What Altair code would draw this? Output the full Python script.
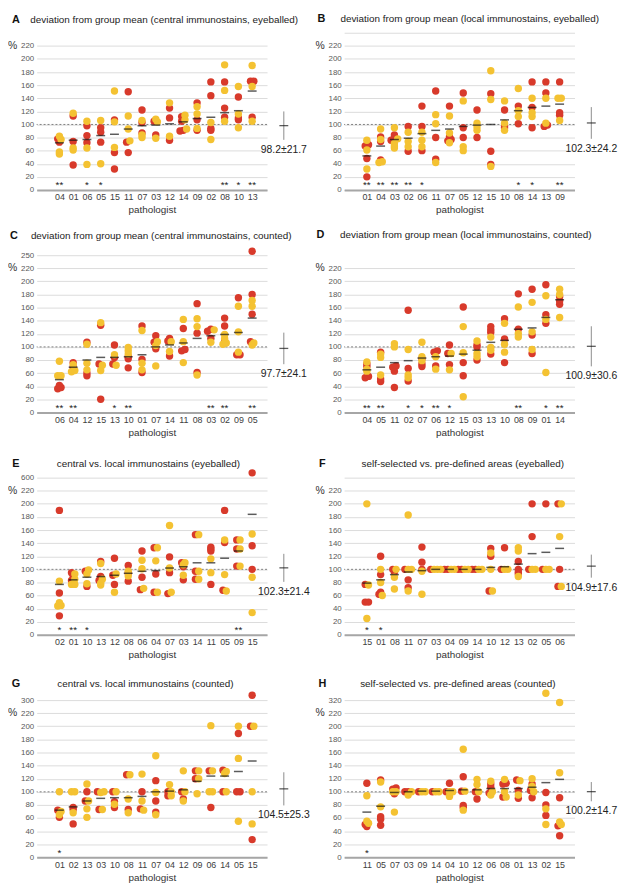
import altair as alt
import pandas as pd

FONT = "Liberation Sans"
RED = "#d83a2b"
YELLOW = "#f4c232"
W, H = 233, 159
X_DOMAIN = [-0.65, 16.08]
SD_X = 17.3

# ---------------- Panel A ----------------
A_title = "deviation from group mean (central immunostains, eyeballed)"
A_ids = ["04", "01", "06", "05", "15", "11", "07", "03", "12", "14", "09", "02", "08", "10", "13"]
A_red = [[78, 73], [113, 74, 38], [98, 83, 72], [95, 88, 73], [107, 57, 32], [150, 73, 57],
         [122, 103, 87], [105, 84], [125, 110, 76], [112, 105, 91, 90], [133, 107, 91],
         [165, 144, 94, 91], [165, 125, 111], [142, 110, 107], [166, 166, 111]]
A_yellow = [[82, 77, 58, 55], [117, 64, 61], [105, 64, 39], [106, 40], [151, 104, 65], [113, 93, 75],
            [106, 84, 80], [108, 104, 79], [133, 82], [114, 107, 93], [127, 116, 94], [103, 77],
            [191, 152, 105], [158, 116, 95], [190, 158, 105]]
A_mean = [72, 76, 77, 83, 85, 93, 98, 99, 101, 104, 109, 111, 118, 121, 151]
A_stars = ["**", "", "*", "*", "", "", "", "", "", "", "", "", "**", "*", "**"]
A_sd = [98.2, 21.7]

# ---------------- Panel B ----------------
B_title = "deviation from group mean (local immunostains, eyeballed)"
B_ids = ["01", "04", "03", "02", "06", "11", "07", "05", "12", "15", "10", "08", "14", "13", "09"]
B_red = [[69, 67, 48, 20], [81, 74, 46], [84, 80, 76], [97, 59], [128, 97, 60], [151, 80, 47],
         [128, 81, 77, 75], [148, 95, 80], [122, 80], [147, 59, 39], [122, 98, 95], [128, 101],
         [165, 126, 95], [165, 148, 99, 97], [165, 118, 114]]
B_yellow = [[76, 61, 32], [93, 77, 43, 42], [95, 78, 71, 67, 64], [88, 74, 66], [88, 76, 66],
            [115, 101, 42], [113, 87, 72], [136, 66, 60], [102, 96, 91], [182, 138, 36],
            [136, 102, 91], [155, 121, 112], [140, 118, 112], [140, 102], [140, 140, 106]]
B_mean = [52, 67, 77, 79, 86, 91, 93, 97, 99, 100, 107, 121, 126, 128, 131]
B_stars = ["**", "**", "**", "**", "*", "", "", "", "", "", "", "*", "*", "", "**"]
B_sd = [102.3, 24.2]

# ---------------- Panel C ----------------
C_title = "deviation from group mean (central immunostains, counted)"
C_ids = ["06", "04", "12", "15", "13", "10", "01", "07", "14", "11", "08", "03", "02", "09", "05"]
C_red = [[41, 38, 36], [76, 69], [107, 60, 56], [133, 74, 20], [103, 84, 74], [85, 82, 68],
         [132, 81, 61], [117, 107, 97], [113, 109, 86], [128, 96, 94], [166, 121, 61],
         [127, 124, 113], [144, 132, 109], [175, 88, 88], [259, 180, 150, 108]]
C_yellow = [[78, 56, 56], [73, 64, 62], [104, 75, 65], [137, 72, 64], [88, 72], [99, 94, 89],
            [125, 75, 65], [108, 102, 71], [108, 93], [142, 108, 76], [143, 131, 57], [126, 107],
            [119, 113, 106, 104], [162, 123, 92], [171, 162, 106, 103]]
C_mean = [50, 69, 80, 84, 84, 85, 88, 100, 103, 106, 113, 117, 119, 122, 144]
C_stars = ["**", "**", "", "", "*", "**", "", "", "", "", "", "**", "**", "", "**"]
C_sd = [97.7, 24.1]

# ---------------- Panel D ----------------
D_title = "deviation from group mean (local immunostains, counted)"
D_ids = ["04", "05", "11", "02", "07", "06", "12", "15", "03", "13", "10", "08", "09", "01", "14"]
D_red = [[74, 70, 55, 53], [92, 51, 47], [71, 69, 63, 38], [156, 67, 48], [82, 74, 70], [94, 92, 71],
         [103, 90, 73], [161, 76, 56], [103, 100, 80], [131, 126, 122, 89], [143, 112, 76],
         [181, 127], [188, 118, 90], [195, 149, 136], [177, 170, 165]]
D_yellow = [[77, 66, 63], [89, 84, 57], [105, 100], [96, 57, 53], [107, 85, 79], [85, 66], [90, 65],
            [131, 91, 24], [109, 90, 85], [115, 99, 95], [136, 104, 92], [161, 120, 115],
            [168, 123, 96], [178, 142, 61], [188, 180, 145]]
D_mean = [65, 69, 76, 79, 83, 85, 86, 89, 95, 107, 110, 127, 129, 145, 172]
D_stars = ["**", "**", "", "*", "*", "**", "*", "", "", "", "", "**", "", "*", "**"]
D_sd = [100.9, 30.6]

# ---------------- Panel E ----------------
E_title = "central vs. local immunostains (eyeballed)"
E_ids = ["02", "01", "10", "13", "12", "08", "06", "04", "07", "03", "14", "11", "05", "09", "15"]
E_red = [[190, 64, 29], [95, 90, 83], [97, 74], [112, 89, 83], [117, 91, 77], [106, 94, 82],
         [128, 88, 69], [133, 93, 65], [119, 95, 63], [110, 104, 84], [153, 97, 85],
         [134, 131, 128, 77], [190, 141, 68], [145, 131, 105], [740, 136, 100]]
E_yellow = [[82, 49, 45, 44], [93, 85, 77, 77], [99, 93, 78], [109, 85, 79, 76], [93, 65], [97, 90],
            [114, 101, 71], [133, 113, 65], [167, 102, 65], [110, 107, 91], [153, 97, 85], [116, 95],
            [145, 92, 67], [145, 131, 105], [154, 88, 34]]
E_mean = [77, 84, 88, 89, 91, 94, 97, 98, 102, 104, 110, 110, 117, 128, 184]
E_stars = ["*", "**", "*", "", "", "", "", "", "", "", "", "", "", "**", ""]
E_sd = [102.3, 21.4]

# ---------------- Panel F ----------------
F_title = "self-selected vs. pre-defined areas (eyeballed)"
F_ids = ["15", "01", "08", "11", "07", "03", "04", "09", "14", "10", "12", "13", "02", "05", "06"]
F_red = [[77, 50, 50], [120, 92, 65, 62], [100, 96], [100, 84, 72], [134, 111, 100], [100],
         [100, 100], [100, 100], [100, 100], [132, 120, 67], [133, 100], [112, 100, 96, 93],
         [200, 150, 100], [200, 100], [200, 100, 74]]
F_yellow = [[200, 76, 25], [100, 80, 60], [100, 88, 70], [183, 100, 100, 67], [97, 62], [100, 100, 100],
            [100, 100], [100, 100], [100, 100], [125, 100, 67], [100, 100], [133, 128, 89],
            [100, 100], [100, 100], [200, 150, 74]]
F_mean = [79, 84, 92, 96, 98, 100, 100, 100, 100, 103, 104, 108, 124, 126, 132]
F_stars = ["*", "*", "", "", "", "", "", "", "", "", "", "", "", "", ""]
F_sd = [104.9, 17.6]

# ---------------- Panel G ----------------
G_title = "central vs. local immunostains (counted)"
G_ids = ["01", "02", "13", "03", "10", "08", "11", "07", "04", "12", "09", "06", "14", "05", "15"]
G_red = [[72, 61], [76, 73, 51], [100, 86], [100, 73], [100, 85, 76], [126, 73], [100, 74],
         [117, 86, 69], [100, 94], [100, 89], [132, 120], [132, 76], [133, 100], [189, 100, 100],
         [330, 200, 27]]
G_yellow = [[100, 70, 65], [100, 100, 68], [112, 86, 74, 61], [100, 99, 73], [100, 81], [126, 89, 68],
            [127, 86, 72], [155, 99, 65], [111, 100, 94], [132, 100, 86], [132, 120, 97],
            [201, 132, 100, 100], [131, 128, 100], [200, 151, 55], [200, 100, 51]]
G_mean = [72, 77, 86, 90, 91, 91, 93, 100, 101, 103, 116, 124, 124, 131, 147]
G_stars = ["*", "", "", "", "", "", "", "", "", "", "", "", "", "", ""]
G_sd = [104.5, 25.3]

# ---------------- Panel H ----------------
H_title = "self-selected vs. pre-defined areas (counted)"
H_ids = ["11", "05", "07", "03", "09", "14", "04", "10", "12", "06", "08", "01", "13", "02", "15"]
H_red = [[113, 50, 47], [118, 62, 58, 49], [106, 104, 97], [100, 100], [100], [100], [113, 100],
         [123, 101, 79, 76], [100, 89], [112, 107, 98], [113, 112, 92], [118, 102, 90],
         [112, 102, 91], [99, 80, 64], [91, 48, 33]]
H_yellow = [[94, 55, 52], [115, 77], [100, 100, 69], [100, 95], [100, 100], [100, 100], [100, 100, 93],
            [165, 101, 72], [119, 111, 100], [116, 100, 95], [119, 100, 92], [117, 95],
            [120, 108, 100], [372, 74, 50], [302, 129, 54, 50]]
H_mean = [69, 78, 99, 100, 101, 101, 102, 103, 103, 105, 105, 105, 107, 114, 119]
H_stars = ["*", "", "", "", "", "", "", "", "", "", "", "", "", "", ""]
H_sd = [100.2, 14.7]


def cluster_offsets(pts):
    """Spread overlapping points of one category sideways (beeswarm-like)."""
    pts = sorted(pts, key=lambda p: p[0])
    groups = []
    for p in pts:
        if groups and abs(p[0] - groups[-1][-1][0]) < 3:
            groups[-1].append(p)
        else:
            groups.append([p])
    out = []
    for g in groups:
        g = sorted(g, key=lambda p: p[1] != "red")
        k = len(g)
        for j, p in enumerate(g):
            out.append((p[0], p[1], (j - (k - 1) / 2) * 0.24))
    return out


def panel(letter, title, ids, red, yellow, mean, stars, sd, top=None, grid240=False,
          lx=-21, tx=120, ty=-14):
    rows = []
    for i in range(len(ids)):
        pts = [(v, "red") for v in red[i]] + [(v, "yellow") for v in yellow[i]]
        for v, c, o in cluster_offsets(pts):
            rows.append({"idx": i + 1, "v": v, "c": c, "o": o, "ord": 0 if c == "red" else 1})
    pts_df = pd.DataFrame(rows).sort_values("ord", kind="stable")

    brk = top if top else 240
    pos_expr = f"datum.v <= 220 ? datum.v : 220 + (datum.v - 220) * 20 / ({brk} - 220)"

    xs = alt.Scale(domain=X_DOMAIN, nice=False, zero=False)
    ys = alt.Scale(domain=[0, 240], nice=False, zero=True)
    yvals = list(range(0, 221, 20)) + ([240] if (top or grid240) else [])
    top_lab = str(top) if top else ""
    x_label_expr = "[" + ",".join(f"'{s}'" for s in ids) + "][datum.value - 1]"

    ax_x = alt.Axis(
        values=list(range(1, 16)), labelExpr=x_label_expr, title="pathologist",
        grid=False, ticks=False, domainColor="#a6a6a6", domainWidth=2,
        labelFontSize=9, labelColor="#404040", labelPadding=3,
        titleFontSize=10, titleFontWeight="normal", titleColor="#333333", titlePadding=3)
    ax_y = alt.Axis(
        values=yvals, labelExpr=f"datum.value == 240 ? '{top_lab}' : datum.label",
        title="", grid=True, gridColor="#dcdcdc", gridWidth=1, ticks=False, domain=False,
        labelFontSize=8, labelColor="#595959", labelPadding=3)

    def X(f):
        return alt.X(f, scale=xs, axis=ax_x)

    def Y(f):
        return alt.Y(f, scale=ys, axis=ax_y)

    base_pts = alt.Chart(pts_df).transform_calculate(xp="datum.idx + datum.o", yp=pos_expr)

    ref100 = alt.Chart(pd.DataFrame({"y": [100]})).mark_rule(
        color="#808080", strokeDash=[2, 2], strokeWidth=1
    ).encode(y=Y("y:Q"))

    points = base_pts.mark_circle(size=56, opacity=1).encode(
        x=X("xp:Q"),
        y=Y("yp:Q"),
        color=alt.Color("c:N", scale=alt.Scale(domain=["red", "yellow"], range=[RED, YELLOW]), legend=None),
        order=alt.Order("ord:Q"),
    )

    mean_df = pd.DataFrame({"idx": list(range(1, 16)), "m": mean})
    means = alt.Chart(mean_df).mark_tick(
        orient="horizontal", size=9, thickness=1.5, color="#151515"
    ).encode(x=X("idx:Q"), y=Y("m:Q"))

    star_df = pd.DataFrame({"idx": list(range(1, 16)), "s": stars})
    star_df = star_df[star_df["s"] != ""].copy()
    star_df["y"] = 10
    star_layer = alt.Chart(star_df).mark_text(
        fontSize=10, color="#222222", baseline="middle", dy=2
    ).encode(x=X("idx:Q"), y=Y("y:Q"), text="s:N")

    sd_df = pd.DataFrame({"x": [SD_X], "m": [sd[0]], "lo": [sd[0] - sd[1]], "hi": [sd[0] + sd[1]],
                          "lab": [f"{sd[0]:.1f}±{sd[1]:.1f}"]})
    sd_rule = alt.Chart(sd_df).mark_rule(color="#8c8c8c", strokeWidth=1).encode(
        x=X("x:Q"), y=Y("lo:Q"), y2="hi:Q")
    sd_tick = alt.Chart(sd_df).mark_tick(orient="horizontal", size=9, thickness=1.3, color="#151515").encode(
        x=X("x:Q"), y=Y("m:Q"))
    sd_text = alt.Chart(sd_df).mark_text(baseline="top", dy=5, fontSize=10.5, color="#222222").encode(
        x=X("x:Q"), y=Y("lo:Q"), text="lab:N")

    pct = alt.Chart(pd.DataFrame({"y": [220], "t": ["%"]})).mark_text(
        align="left", baseline="middle", fontSize=10.5, color="#333333"
    ).encode(x=alt.value(-29), y=Y("y:Q"), text="t:N")

    ttl = alt.Chart(pd.DataFrame({"t": [title]})).mark_text(
        align="center", baseline="middle", fontSize=10, color="#222222"
    ).encode(x=alt.value(tx), y=alt.value(ty), text="t:N")
    let = alt.Chart(pd.DataFrame({"t": [letter]})).mark_text(
        align="center", baseline="middle", fontSize=11, fontWeight="bold", color="#111111"
    ).encode(x=alt.value(lx), y=alt.value(ty), text="t:N")

    return alt.layer(ref100, points, means, star_layer, sd_rule, sd_tick, sd_text, pct, ttl, let).properties(
        width=W, height=H)


pA = panel("A", A_title, A_ids, A_red, A_yellow, A_mean, A_stars, A_sd, lx=-21, tx=129, ty=-13)
pB = panel("B", B_title, B_ids, B_red, B_yellow, B_mean, B_stars, B_sd, grid240=True, lx=-23, tx=127, ty=-14)
pC = panel("C", C_title, C_ids, C_red, C_yellow, C_mean, C_stars, C_sd, top=250, lx=-23, tx=126, ty=-19)
pD = panel("D", D_title, D_ids, D_red, D_yellow, D_mean, D_stars, D_sd, lx=-24, tx=123, ty=-20)
pE = panel("E", E_title, E_ids, E_red, E_yellow, E_mean, E_stars, E_sd, top=600, lx=-21, tx=113, ty=-14)
pF = panel("F", F_title, F_ids, F_red, F_yellow, F_mean, F_stars, F_sd, grid240=True, lx=-22, tx=120, ty=-14)
pG = panel("G", G_title, G_ids, G_red, G_yellow, G_mean, G_stars, G_sd, top=300, lx=-21, tx=110, ty=-16)
pH = panel("H", H_title, H_ids, H_red, H_yellow, H_mean, H_stars, H_sd, top=320, lx=-22, tx=115, ty=-16)

chart = alt.concat(pA, pB, pC, pD, pE, pF, pG, pH, columns=2,
                   spacing={"row": 66, "column": 78}, bounds="flush").properties(padding=0).configure(
    font=FONT).configure_view(stroke=None)

chart.save("out.html", embed_options={"renderer": "svg", "actions": False})
